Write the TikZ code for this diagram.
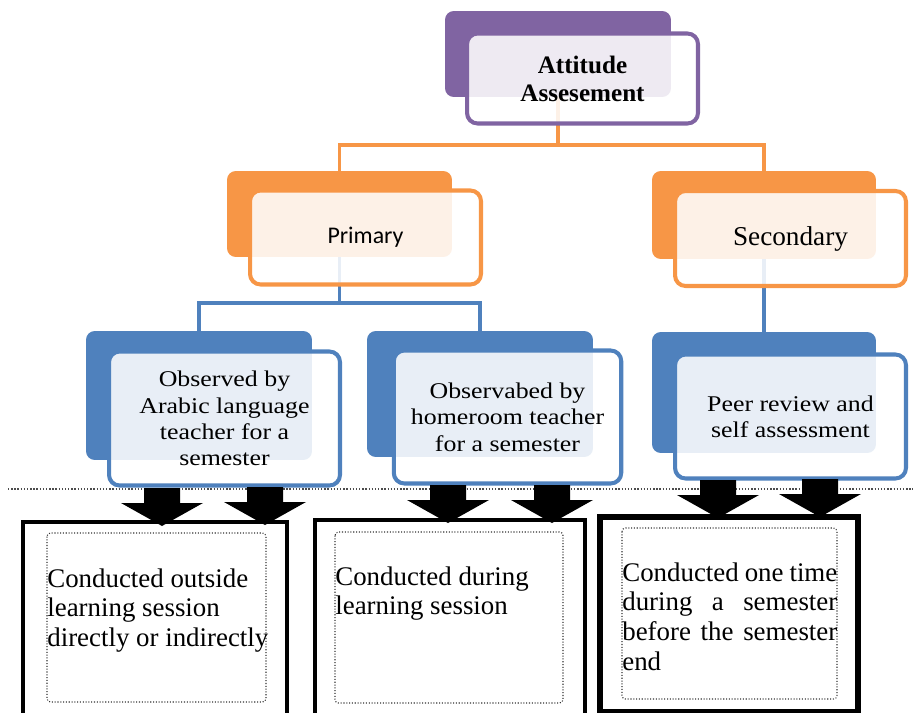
\documentclass[tikz,border=0pt]{standalone}
\usepackage{fontspec}
\setmainfont{Liberation Serif}
\newfontfamily\widefont{Liberation Serif}[FakeStretch=1.15]
\newfontfamily\calibri{Carlito}
\usetikzlibrary{positioning}
\definecolor{pu}{RGB}{128,100,162}
\definecolor{og}{RGB}{247,150,70}
\definecolor{bl}{RGB}{79,129,189}
\newcommand{\blkarrow}[2]{\fill (#1,#2) ++(-18,0) -- ++(0,15) -- ++(-23,0) -- ++(41,23) -- ++(41,-23) -- ++(-23,0) -- ++(0,-15) -- cycle;}
\newcommand{\fillline}[1]{\makebox[4.3cm][s]{#1}}

\begin{document}
\begin{tikzpicture}[x=0.02cm,y=-0.02cm,
    bk/.style={fill=#1,rounded corners=5pt,inner sep=0pt},
    fr/.style={draw=#1,line width=2.3pt,fill=white,fill opacity=0.87,text opacity=1,rounded corners=6pt,align=center,inner sep=0pt},
    cn/.style={draw=#1,line width=2.2pt},
    bluetxt/.style={font=\widefont\fontsize{12.8pt}{15pt}\selectfont},
    outbox/.style={draw,line width=#1},
    dotbox/.style={draw=black!80,densely dotted,line width=0.6pt,rounded corners=2pt},
    btxt/.style={anchor=north west,align=left,inner sep=0pt,font=\fontsize{15.3pt}{17pt}\selectfont},
]
\useasboundingbox (0,0) rectangle (913,713);

% Back shapes
\node[bk=pu,minimum width=4.52cm,minimum height=1.72cm] (attb) at (558,54) {};
\node[bk=og,minimum width=4.5cm,minimum height=1.72cm] (primb) at (339.5,214) {};
\node[bk=og,minimum width=4.48cm,minimum height=1.76cm] (secb) at (764,215) {};
\node[bk=bl,minimum width=4.52cm,minimum height=2.58cm] (obsAb) at (199,395.5) {};
\node[bk=bl,minimum width=4.52cm,minimum height=2.52cm] (obsHb) at (480,394) {};
\node[bk=bl,minimum width=4.48cm,minimum height=2.42cm] (peerb) at (764,392.5) {};

% Connectors
\draw[cn=og] (attb.south) -- ++(0,48) -| (primb.north);
\draw[cn=og] (attb.south) -- ++(0,48) -| (secb.north);
\draw[cn=bl] (primb.south) -- ++(0,46) -| (obsAb.north);
\draw[cn=bl] (primb.south) -- ++(0,46) -| (obsHb.north);
\draw[cn=bl] (secb.south) -- (peerb.north);

% Front shapes
\node[fr=pu,minimum width=4.62cm,minimum height=1.8cm,font=\bfseries\fontsize{14.3pt}{16pt}\selectfont] (att) at (582.5,78.5) {Attitude\\Assesement};
\node[fr=og,minimum width=4.62cm,minimum height=1.88cm,font=\calibri\fontsize{13.6pt}{16pt}\selectfont] (prim) at (365.5,237.5) {Primary};
\node[fr=og,minimum width=4.62cm,minimum height=1.9cm,font=\fontsize{15.5pt}{18pt}\selectfont] (sec) at (790.5,238.5) {Secondary};
\node[fr=bl,bluetxt,minimum width=4.62cm,minimum height=2.68cm] (obsA) at (224.5,418.5) {Observed by\\Arabic language\\teacher for a\\semester};
\node[fr=bl,bluetxt,minimum width=4.55cm,minimum height=2.66cm] (obsH) at (507.5,417) {Observabed by\\homeroom teacher\\for a semester};
\node[fr=bl,bluetxt,minimum width=4.62cm,minimum height=2.48cm] (peer) at (790.5,416.5) {Peer review and\\self assessment};

% Separator
\draw[densely dotted,black!70,line width=0.8pt] (8,489) -- (913,489);

% Result boxes
\draw[outbox=2.2pt] (23,720) |- (287,522) -- (287,720);
\draw[outbox=2.2pt] (315,720) |- (585,520) -- (585,720);
\draw[outbox=3pt] (600,517) rectangle (858,712);
\draw[dotbox] (47,533) rectangle (266,702);
\draw[dotbox] (335,532) rectangle (563,703);
\draw[dotbox] (622,528) rectangle (837,699);
\node[btxt] (outs) at (47,568) {Conducted outside\\learning session\\directly or indirectly};
\node[btxt] (during) at (335,566) {Conducted during\\learning session};
\node[btxt] (once) at (622,562) {\fillline{Conducted one time}\\\fillline{during a semester}\\\fillline{before the semester}\\end};

% Block arrows
\blkarrow{162}{488}
\blkarrow{265}{487}
\blkarrow{448}{485}
\blkarrow{552}{485}
\blkarrow{718}{480}
\blkarrow{820}{479}
\end{tikzpicture}
\end{document}
